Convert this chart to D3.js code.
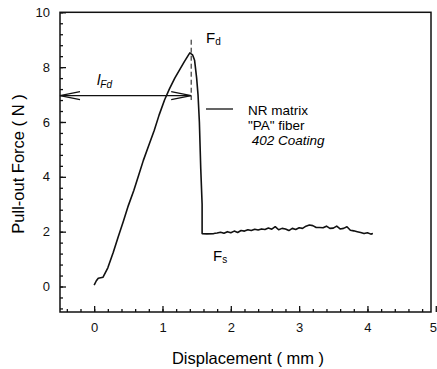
<html>
  <head>
    <script src="https://d3js.org/d3.v7.min.js"></script>
    <style>
      body { margin: 0; background: #fff; }
      svg { font-family: Arial, "Liberation Sans", sans-serif; }
      .axis text { font-size: 13px; fill: #111; }
      .axis line { stroke: #111; stroke-width: 1.3; }
      .frame { fill: none; stroke: #111; stroke-width: 1.5; }
      .curve { fill: none; stroke: #111; stroke-width: 1.6; stroke-linejoin: round; }
    </style>
  </head>
  <body>
    <div id="chart"></div>
    <script>
// displacement (mm) and pull-out force (N)
var disp = [0, 0.03, 0.06, 0.13, 0.2, 0.28, 0.35, 0.43, 0.5, 0.58, 0.65, 0.72, 0.8, 0.88, 0.95,
  1.03, 1.1, 1.18, 1.25, 1.32, 1.37, 1.40, 1.44, 1.47, 1.50, 1.52, 1.54, 1.56, 1.58, 1.58,
  1.65, 1.75, 1.80, 1.85, 1.90, 1.95, 2.00, 2.05, 2.10, 2.15, 2.20, 2.25, 2.30, 2.35, 2.40,
  2.45, 2.50, 2.55, 2.60, 2.65, 2.70, 2.75, 2.80, 2.85, 2.90, 2.95, 3.00, 3.05, 3.10, 3.15,
  3.20, 3.25, 3.30, 3.35, 3.40, 3.45, 3.50, 3.55, 3.60, 3.65, 3.70, 3.75, 3.80, 3.85, 3.90,
  3.95, 4.00, 4.05, 4.08];
var force = [0.05, 0.2, 0.3, 0.34, 0.68, 1.25, 1.8, 2.4, 2.95, 3.5, 4.05, 4.6, 5.15, 5.7, 6.25,
  6.8, 7.2, 7.6, 7.9, 8.2, 8.4, 8.52, 8.45, 8.25, 7.6, 7.0, 6.0, 4.3, 3.0, 1.93,
  1.92, 1.93, 1.95, 1.98, 1.94, 2.0, 1.96, 2.02, 1.97, 2.04, 2.02, 2.07, 2.04, 2.09, 2.06,
  2.10, 2.08, 2.13, 2.09, 2.18, 2.07, 2.12, 2.10, 2.04, 2.12, 2.08, 2.14, 2.12, 2.20, 2.24,
  2.22, 2.15, 2.15, 2.14, 2.20, 2.12, 2.13, 2.20, 2.10, 2.12, 2.18, 2.05, 2.03, 2.0, 1.97,
  1.93, 1.96, 1.91, 1.93];

var xMajor = [0, 1, 2, 3, 4, 5];
var yMajor = [0, 2, 4, 6, 8, 10];
var legendLines = ["NR matrix", "\"PA\" fiber", " 402 Coating"];

var width = 437, height = 369;
var xMin = -0.5, xMax = 4.93, yMin = -0.93, yMax = 10;

var x = d3.scaleLinear().domain([xMin, xMax]).range([60, 431]);
var y = d3.scaleLinear().domain([yMin, yMax]).range([312, 12.3]);

var svg = d3.select("#chart").append("svg")
  .attr("width", width)
  .attr("height", height);

/* minor ticks every 1/5 of a major step */
var xMinor = d3.range(-0.4, 4.95, 0.2).map(v => +v.toFixed(2));
var yMinor = d3.range(-0.8, 10.01, 0.4).map(v => +v.toFixed(2));

svg.append("g").attr("class", "axis")
  .attr("transform", `translate(0, ${y(yMin)})`)
  .call(d3.axisBottom(x).tickValues(xMinor).tickSize(-3).tickFormat(""))
  .select(".domain").remove();

var xAx = svg.append("g").attr("class", "axis")
  .attr("transform", `translate(0, ${y(yMin)})`)
  .call(d3.axisBottom(x).tickValues(xMajor).tickSize(-6).tickPadding(11).tickFormat(d3.format("d")));
xAx.select(".domain").remove();
// last label sits on the window edge, pull it in a little
xAx.selectAll(".tick text").filter(d => d == 5).attr("x", -3);

svg.append("g").attr("class", "axis")
  .attr("transform", `translate(${x(xMin)}, 0)`)
  .call(d3.axisLeft(y).tickValues(yMinor).tickSize(-3).tickFormat(""))
  .select(".domain").remove();

svg.append("g").attr("class", "axis")
  .attr("transform", `translate(${x(xMin)}, 0)`)
  .call(d3.axisLeft(y).tickValues(yMajor).tickSize(-6).tickPadding(10).tickFormat(d3.format("d")))
  .select(".domain").remove();

svg.append("rect")
  .attr("class", "frame")
  .attr("x", x(xMin))
  .attr("y", y(yMax))
  .attr("width", x(xMax) - x(xMin))
  .attr("height", y(yMin) - y(yMax));

/* curve */
var line = d3.line()
  .x((d, i) => x(disp[i]))
  .y(d => y(d));

svg.append("path")
  .attr("class", "curve")
  .attr("d", line(force));

/* annotations */
var peakX = 1.42, arrowY = 6.96;

svg.append("line")
  .attr("x1", x(peakX)).attr("x2", x(peakX))
  .attr("y1", y(9.0)).attr("y2", y(6.8))
  .attr("stroke", "#111").attr("stroke-width", 1)
  .attr("stroke-dasharray", "5,3");

svg.append("line")
  .attr("x1", x(xMin)).attr("x2", x(peakX))
  .attr("y1", y(arrowY)).attr("y2", y(arrowY))
  .attr("stroke", "#111").attr("stroke-width", 1.1);

var heads = [[x(xMin), 1], [x(peakX), -1]];
heads.forEach(function(h) {
  var ax = h[0], dir = h[1], ay = y(arrowY);
  svg.append("path")
    .attr("d", `M${ax + dir * 20},${ay - 4} L${ax},${ay} L${ax + dir * 20},${ay + 4}`)
    .attr("fill", "none").attr("stroke", "#111").attr("stroke-width", 1.1);
});

var lab = svg.append("text")
  .attr("x", 97).attr("y", 85)
  .style("font-size", "15px").style("font-style", "italic");
lab.append("tspan").text("l");
lab.append("tspan").attr("dy", 3).style("font-size", "10px").text("Fd");

var fd = svg.append("text").attr("x", 206).attr("y", 43).style("font-size", "15px");
fd.append("tspan").text("F");
fd.append("tspan").attr("dy", 2).style("font-size", "10px").text("d");

var fs = svg.append("text").attr("x", 213).attr("y", 261).style("font-size", "15px");
fs.append("tspan").text("F");
fs.append("tspan").attr("dy", 2).style("font-size", "10px").text("s");

/* legend */
svg.append("line")
  .attr("x1", 206).attr("x2", 233)
  .attr("y1", 109).attr("y2", 109)
  .attr("stroke", "#111").attr("stroke-width", 1.3);

svg.selectAll(".legend-text")
  .data(legendLines).enter()
  .append("text")
  .attr("class", "legend-text")
  .attr("x", 248)
  .attr("y", (d, i) => 115 + i * 15)
  .style("font-size", "13.5px")
  .style("font-style", (d, i) => i == 2 ? "italic" : "normal")
  .style("white-space", "pre")
  .text(d => d);

/* axis titles */
svg.append("text")
  .attr("x", 248).attr("y", 364)
  .attr("text-anchor", "middle")
  .style("font-size", "16.5px")
  .text("Displacement ( mm )");

svg.append("text")
  .attr("transform", `translate(24, 164) rotate(-90)`)
  .attr("text-anchor", "middle")
  .style("font-size", "16.5px")
  .text("Pull-out Force ( N )");
    </script>
  </body>
</html>
